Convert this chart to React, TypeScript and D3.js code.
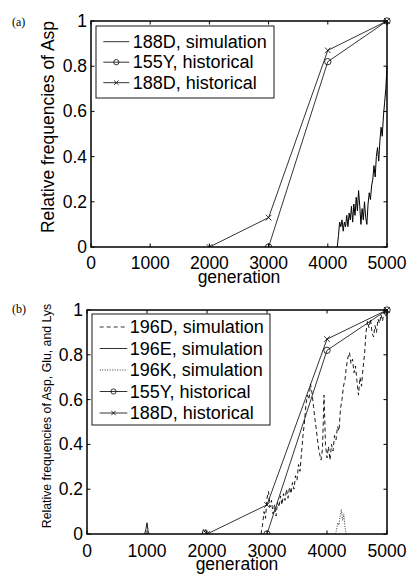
import React from "react";
import * as d3 from "d3";

// ---------- data ----------
const xTicks = [0, 1000, 2000, 3000, 4000, 5000];
const yTicks = [0, 0.2, 0.4, 0.6, 0.8, 1];
const yTickLabels = ["0", "0.2", "0.4", "0.6", "0.8", "1"];

const hist155YGen = [3000, 4000, 5000];
const hist155YVal = [0, 0.82, 1];
const hist188DGen = [2000, 3000, 4000, 5000];
const hist188DVal = [0, 0.13, 0.87, 1];

// panel (a): 188D simulation, generations start 4140 step 20
const sim188DStart = 4140;
const sim188DStep = 20;
const sim188DVal = [
  0, 0.0, 0.05, 0.11, 0.09, 0.12, 0.07, 0.11, 0.09, 0.14, 0.09, 0.15, 0.12, 0.18, 0.11,
  0.19, 0.14, 0.22, 0.16, 0.25, 0.18, 0.1, 0.17, 0.12, 0.2, 0.13, 0.1, 0.19, 0.24, 0.21,
  0.27, 0.3, 0.36, 0.31, 0.4, 0.44, 0.38, 0.47, 0.53, 0.49, 0.58, 0.64, 0.7, 0.8,
];

// panel (b): 196D simulation, generations start 2900 step 25
const sim196DStart = 2900;
const sim196DStep = 25;
const sim196DVal = [
  0.0, 0.04, 0.1, 0.07, 0.16, 0.19, 0.12, 0.15, 0.09, 0.13, 0.08, 0.14, 0.12, 0.17, 0.13,
  0.18, 0.15, 0.2, 0.16, 0.21, 0.18, 0.23, 0.2, 0.26, 0.24, 0.31, 0.28, 0.36, 0.44, 0.5,
  0.58, 0.62, 0.6, 0.67, 0.63, 0.57, 0.51, 0.46, 0.4, 0.36, 0.33, 0.38, 0.62, 0.4, 0.34,
  0.39, 0.33, 0.4, 0.37, 0.44, 0.42, 0.48, 0.46, 0.56, 0.6, 0.66, 0.69, 0.75, 0.79, 0.81,
  0.76, 0.78, 0.72, 0.75, 0.68, 0.62, 0.7, 0.66, 0.74, 0.8, 0.9, 0.95, 0.92, 0.96, 0.9,
  0.88, 0.93, 0.9, 0.96, 0.94, 0.98, 0.95, 0.99, 0.97, 1.0,
];

// 196E simulation: two short blips
const sim196EGenA = [960, 980, 1000, 1020, 1040];
const sim196EValA = [0, 0.02, 0.05, 0.01, 0];
const sim196EGenB = [1920, 1940, 1960, 1980, 2000];
const sim196EValB = [0, 0.02, 0.01, 0.02, 0];

// 196K simulation: one blip
const sim196KGen = [4140, 4160, 4180, 4200, 4220, 4240, 4260, 4280, 4300, 4320];
const sim196KVal = [0, 0.02, 0.05, 0.04, 0.08, 0.11, 0.06, 0.09, 0.03, 0];

const legendA = ["188D, simulation", "155Y, historical", "188D, historical"];
const legendB = [
  "196D, simulation",
  "196E, simulation",
  "196K, simulation",
  "155Y, historical",
  "188D, historical",
];

type Pt = [number, number];
const zip = (g: number[], v: number[]): Pt[] => g.map((x, i) => [x, v[i]]);
const stepped = (start: number, step: number, v: number[]): Pt[] =>
  v.map((y, i) => [start + i * step, y]);

const FONT = "'Liberation Sans', Arial, Helvetica, sans-serif";

type Series = {
  pts: Pt[];
  dash?: string;
  marker?: "o" | "x";
  width?: number;
};

type LegendItem = { label: string; dash?: string; marker?: "o" | "x" };

function Marker({ kind, x, y, s }: { kind: "o" | "x"; x: number; y: number; s: number }) {
  if (kind === "o")
    return <circle cx={x} cy={y} r={s} fill="none" stroke="#000" strokeWidth={0.8} />;
  return (
    <g stroke="#000" strokeWidth={0.8}>
      <line x1={x - s} y1={y - s} x2={x + s} y2={y + s} />
      <line x1={x - s} y1={y + s} x2={x + s} y2={y - s} />
    </g>
  );
}

function Panel(props: {
  left: number;
  right: number;
  top: number;
  bottom: number;
  series: Series[];
  legend: LegendItem[];
  legBox: { x: number; y: number; w: number; h: number };
  legRow0: number;
  legRowStep: number;
  legSample: [number, number];
  legText: number;
  yLabel: string;
  yLabelSize: number;
  yLabelX: number;
  yLabelY: number;
  tag: string;
  tagY: number;
  xTickBase: number;
  xLabelBase: number;
}) {
  const x = d3.scaleLinear().domain([0, 5000]).range([props.left, props.right]);
  const y = d3.scaleLinear().domain([0, 1]).range([props.bottom, props.top]);
  const line = d3
    .line<Pt>()
    .x((d) => x(d[0]))
    .y((d) => y(d[1]));
  const tl = 3.5;
  const cx = (props.left + props.right) / 2;
  return (
    <g>
      <defs>
        <clipPath id={"clip" + props.tag}>
          <rect x={props.left} y={props.top - 5} width={props.right - props.left + 5} height={props.bottom - props.top + 5} />
        </clipPath>
      </defs>
      <g clipPath={`url(#clip${props.tag})`}>
        {props.series.map((s, i) => (
          <g key={i}>
            <path
              d={line(s.pts) || ""}
              fill="none"
              stroke="#000"
              strokeWidth={s.width ?? 0.8}
              strokeDasharray={s.dash}
              strokeLinejoin="round"
            />
            {s.marker &&
              s.pts.map((p, j) => (
                <Marker key={j} kind={s.marker!} x={x(p[0])} y={y(p[1])} s={s.marker === "o" ? 3.2 : 2.8} />
              ))}
          </g>
        ))}
      </g>
      {/* ticks */}
      <g stroke="#000" strokeWidth={1}>
        {xTicks.map((t) => (
          <g key={"xt" + t}>
            <line x1={x(t)} x2={x(t)} y1={props.bottom} y2={props.bottom - tl} />
            <line x1={x(t)} x2={x(t)} y1={props.top} y2={props.top + tl} />
          </g>
        ))}
        {yTicks.map((t) => (
          <g key={"yt" + t}>
            <line x1={props.left} x2={props.left + tl} y1={y(t)} y2={y(t)} />
            <line x1={props.right} x2={props.right - tl} y1={y(t)} y2={y(t)} />
          </g>
        ))}
      </g>
      <rect
        x={props.left}
        y={props.top}
        width={props.right - props.left}
        height={props.bottom - props.top}
        fill="none"
        stroke="#000"
        strokeWidth={1.5}
      />
      {/* tick labels */}
      <g fontFamily={FONT} fontSize={17.5} fill="#000">
        {xTicks.map((t) => (
          <text key={"xl" + t} x={x(t)} y={props.xTickBase} textAnchor="middle">
            {t}
          </text>
        ))}
        {yTicks.map((t, i) => (
          <text key={"yl" + t} x={props.left - 4} y={y(t)} textAnchor="end" dominantBaseline="central">
            {yTickLabels[i]}
          </text>
        ))}
        <text x={cx} y={props.xLabelBase} textAnchor="middle">
          generation
        </text>
      </g>
      <text
        transform={`translate(${props.yLabelX},${props.yLabelY}) rotate(-90)`}
        textAnchor="middle"
        dominantBaseline="central"
        fontFamily={FONT}
        fontSize={props.yLabelSize}
      >
        {props.yLabel}
      </text>
      <text x={12} y={props.tagY} fontFamily="'Liberation Serif', 'Times New Roman', serif" fontSize={12}>
        ({props.tag})
      </text>
      {/* legend */}
      <rect
        x={props.legBox.x}
        y={props.legBox.y}
        width={props.legBox.w}
        height={props.legBox.h}
        fill="#fff"
        stroke="#000"
        strokeWidth={0.9}
      />
      {props.legend.map((it, i) => {
        const ry = props.legRow0 + i * props.legRowStep;
        const [a, b] = props.legSample;
        return (
          <g key={it.label}>
            <line x1={a} x2={b} y1={ry} y2={ry} stroke="#000" strokeWidth={0.8} strokeDasharray={it.dash} />
            {it.marker && <Marker kind={it.marker} x={(a + b) / 2} y={ry} s={it.marker === "o" ? 2.6 : 2.2} />}
            <text x={props.legText} y={ry} dominantBaseline="central" fontFamily={FONT} fontSize={18}>
              {it.label}
            </text>
          </g>
        );
      })}
    </g>
  );
}

export default function App() {
  const histSeries: Series[] = [
    { pts: zip(hist155YGen, hist155YVal), marker: "o" },
    { pts: zip(hist188DGen, hist188DVal), marker: "x" },
  ];
  const seriesA: Series[] = [
    { pts: stepped(sim188DStart, sim188DStep, sim188DVal), width: 1 },
    ...histSeries,
  ];
  const seriesB: Series[] = [
    { pts: stepped(sim196DStart, sim196DStep, sim196DVal), dash: "4,3", width: 0.9 },
    { pts: zip(sim196EGenA, sim196EValA), width: 0.9 },
    { pts: zip(sim196EGenB, sim196EValB), width: 0.9 },
    { pts: zip(sim196KGen, sim196KVal), dash: "1,1.5", width: 0.8 },
    ...histSeries,
  ];
  return (
    <svg
      width={408}
      height={574}
      style={{ position: "absolute", left: 0, top: 0, background: "#fff" }}
    >
      <rect width={408} height={574} fill="#fff" />
      <Panel
        left={91}
        right={387}
        top={21}
        bottom={247}
        series={seriesA}
        legend={[
          { label: legendA[0] },
          { label: legendA[1], marker: "o" },
          { label: legendA[2], marker: "x" },
        ]}
        legBox={{ x: 96, y: 26, w: 178, h: 72 }}
        legRow0={41.7}
        legRowStep={20.5}
        legSample={[103.3, 129.3]}
        legText={132.7}
        yLabel="Relative frequencies of Asp"
        yLabelSize={17.5}
        yLabelX={48}
        yLabelY={127}
        tag="a"
        tagY={26}
        xTickBase={269}
        xLabelBase={283}
      />
      <Panel
        left={87}
        right={387}
        top={310}
        bottom={534}
        series={seriesB}
        legend={[
          { label: legendB[0], dash: "4,3" },
          { label: legendB[1] },
          { label: legendB[2], dash: "1,1.5" },
          { label: legendB[3], marker: "o" },
          { label: legendB[4], marker: "x" },
        ]}
        legBox={{ x: 92, y: 314, w: 178, h: 111 }}
        legRow0={327}
        legRowStep={21.5}
        legSample={[99.7, 127.3]}
        legText={129.7}
        yLabel="Relative frequencies of Asp, Glu, and Lys"
        yLabelSize={12.3}
        yLabelX={47}
        yLabelY={416}
        tag="b"
        tagY={313}
        xTickBase={556.7}
        xLabelBase={570}
      />
    </svg>
  );
}
